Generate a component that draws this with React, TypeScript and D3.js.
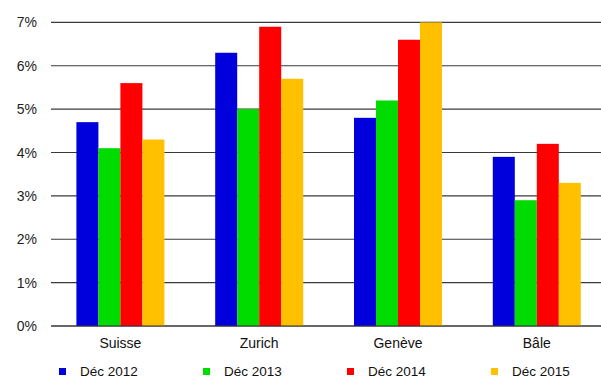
import { useRef, useEffect } from "react";
import * as d3 from "d3";

const categories = ["Suisse", "Zurich", "Genève", "Bâle"];
const seriesNames = ["Déc 2012", "Déc 2013", "Déc 2014", "Déc 2015"];
const dec2012 = [4.7, 6.3, 4.8, 3.9];
const dec2013 = [4.1, 5.0, 5.2, 2.9];
const dec2014 = [5.6, 6.9, 6.6, 4.2];
const dec2015 = [4.3, 5.7, 7.0, 3.3];
const yTicks = [0, 1, 2, 3, 4, 5, 6, 7];
const colors = ["#0000dc", "#00dc00", "#ff0000", "#ffc000"];

export default function App() {
  const ref = useRef<SVGSVGElement>(null);
  const width = 601;
  const height = 378;

  useEffect(() => {
    if (!ref.current) return;
    const svg = d3.select(ref.current);
    svg.selectAll("*").remove();
    const font = "'Liberation Sans', Arial, sans-serif";
    const values = [dec2012, dec2013, dec2014, dec2015];

    const x0 = d3.scaleBand().domain(categories).range([51, 606.2]).paddingInner(0.366).paddingOuter(0.183);
    const x1 = d3.scaleBand().domain(seriesNames).range([0, x0.bandwidth()]);
    const y = d3.scaleLinear().domain([0, 7]).range([326, 22.4]);

    // grid lines
    svg.append("g").selectAll("line").data(yTicks).enter().append("line")
      .attr("x1", 51).attr("x2", width)
      .attr("y1", d => y(d)).attr("y2", d => y(d))
      .attr("stroke", "#3a3a3a").attr("stroke-width", 1.1);

    svg.append("g").selectAll("text").data(yTicks).enter().append("text")
      .attr("x", 37).attr("y", d => y(d)).attr("dy", "0.36em")
      .attr("text-anchor", "end").attr("font-family", font).attr("font-size", 14)
      .attr("fill", "#222").text(d => `${d}%`);

    // bars
    const groups = svg.append("g").selectAll("g").data(categories).enter().append("g")
      .attr("transform", c => `translate(${x0(c)},0)`);
    groups.selectAll("rect")
      .data((_, i) => seriesNames.map((s, k) => ({ s, k, v: values[k][i] })))
      .enter().append("rect")
      .attr("x", d => x1(d.s)!).attr("width", x1.bandwidth())
      .attr("y", d => y(d.v)).attr("height", d => y(0) - y(d.v))
      .attr("fill", d => colors[d.k]);

    // baseline
    svg.append("line").attr("x1", 51).attr("x2", width).attr("y1", y(0)).attr("y2", y(0))
      .attr("stroke", "#333").attr("stroke-width", 1.2);

    // category labels
    svg.append("g").selectAll("text").data(categories).enter().append("text")
      .attr("x", c => x0(c)! + x0.bandwidth() / 2).attr("y", 348)
      .attr("text-anchor", "middle").attr("font-family", font).attr("font-size", 14)
      .attr("fill", "#111").text(c => c);

    // legend
    const legend = svg.append("g").selectAll("g").data(seriesNames).enter().append("g")
      .attr("transform", (_, i) => `translate(${59 + i * 144},368)`);
    legend.append("rect").attr("width", 7).attr("height", 7).attr("fill", (_, i) => colors[i]);
    legend.append("text").attr("x", 21).attr("y", 7.7)
      .attr("font-family", font).attr("font-size", 13.5).attr("fill", "#111").text(d => d);
  }, []);

  return (
    <svg ref={ref} width={width} height={height}
      style={{ position: "absolute", left: 0, top: 0, background: "#fff" }} />
  );
}
